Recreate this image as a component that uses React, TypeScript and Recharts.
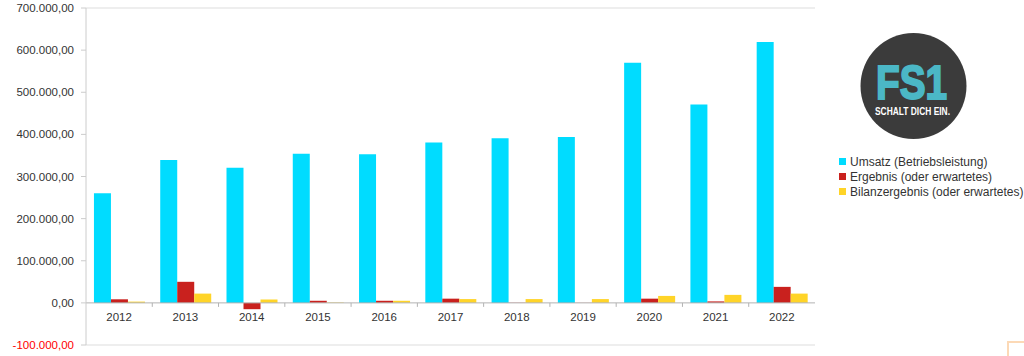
import React from 'react';
import { BarChart, Bar, XAxis, YAxis, CartesianGrid, ReferenceLine } from 'recharts';

const years = ['2012', '2013', '2014', '2015', '2016', '2017', '2018', '2019', '2020', '2021', '2022'];
const umsatz = [260000, 339000, 321000, 354000, 353000, 381000, 391000, 394000, 570000, 471000, 619000];
const ergebnis = [8500, 50000, -15000, 5000, 5000, 10000, 500, 300, 10000, 3500, 38000];
const bilanz = [3000, 22000, 8000, 1000, 5000, 9000, 9000, 9000, 16500, 19000, 22000];
const yTicks = [-100000, 0, 100000, 200000, 300000, 400000, 500000, 600000, 700000];

const series = [
  { key: 'Umsatz (Betriebsleistung)', color: '#00dcff', values: umsatz },
  { key: 'Ergebnis (oder erwartetes)', color: '#c9211e', values: ergebnis },
  { key: 'Bilanzergebnis (oder erwartetes)', color: '#ffd428', values: bilanz },
];

const Y_MIN = -100000;
const Y_MAX = 700000;

const W = 1024;
const H = 356;
const PLOT_LEFT = 86;
const PLOT_TOP = 8;
const PLOT_RIGHT = 815;
const PLOT_BOTTOM = 345;
const FONT = '"Liberation Sans", Arial, sans-serif';

const data = years.map((y, i) => {
  const row: any = { year: y };
  series.forEach((s) => (row[s.key] = s.values[i]));
  return row;
});

const fmt = (v: number) => {
  const neg = v < 0;
  const s = Math.abs(Math.round(v)).toString().replace(/\B(?=(\d{3})+(?!\d))/g, '.');
  return (neg ? '-' : '') + s + ',00';
};

// zero line sits inside the plot, the year labels hang off it
const zeroY = PLOT_TOP + (PLOT_BOTTOM - PLOT_TOP) * (Y_MAX / (Y_MAX - Y_MIN));
const band = (PLOT_RIGHT - PLOT_LEFT) / years.length;

const YearTick = (props: any) => {
  const { x, payload, index } = props;
  return (
    <g>
      {index > 0 && (
        <line x1={x - band / 2} x2={x - band / 2} y1={zeroY} y2={zeroY + 4} stroke="#b3b3b3" />
      )}
      <text x={x} y={zeroY + 18} textAnchor="middle" fill="#333" fontSize={11.5} fontFamily={FONT}>
        {payload.value}
      </text>
    </g>
  );
};

const ValueTick = (props: any) => {
  const { x, y, payload } = props;
  return (
    <text x={x} y={y} dy={4} textAnchor="end" fill={payload.value < 0 ? '#ff0000' : '#333'} fontSize={11.5} fontFamily={FONT}>
      {fmt(payload.value)}
    </text>
  );
};

const LegendBox = () => (
  <div style={{ position: 'absolute', left: 839, top: 154, fontFamily: FONT, fontSize: 12, color: '#333' }}>
    {series.map((s) => (
      <div key={s.key} style={{ display: 'flex', alignItems: 'center', height: 15, whiteSpace: 'nowrap' }}>
        <span style={{ width: 7, height: 7, background: s.color, marginRight: 4, display: 'inline-block' }} />
        <span>{s.key}</span>
      </div>
    ))}
  </div>
);

const Logo = () => (
  <svg width={120} height={120} style={{ position: 'absolute', left: 853, top: 26 }}>
    <circle cx={60.5} cy={60} r={53} fill="#3b3b3b" />
    <text
      x={23}
      y={73}
      fill="#4bb7c6"
      stroke="#4bb7c6"
      strokeWidth={2}
      fontSize={48}
      fontWeight="bold"
      fontFamily={FONT}
      textLength={71}
      lengthAdjust="spacingAndGlyphs"
    >
      FS1
    </text>
    <text x={22} y={89} fill="#ffffff" fontSize={10} fontWeight="bold" fontFamily={FONT} textLength={75} lengthAdjust="spacingAndGlyphs">
      SCHALT DICH EIN.
    </text>
  </svg>
);

const App: React.FC = () => {
  return (
    <div style={{ position: 'absolute', left: 0, top: 0, width: W, height: H, background: '#fff' }}>
      <BarChart
        width={W}
        height={H}
        data={data}
        margin={{ top: PLOT_TOP, right: W - PLOT_RIGHT, bottom: H - PLOT_BOTTOM - 1, left: 0 }}
        barGap={0}
        barCategoryGap="12%"
      >
        <CartesianGrid vertical={false} stroke="#dddddd" />
        <XAxis dataKey="year" height={1} axisLine={false} tickLine={false} tick={<YearTick />} interval={0} />
        <YAxis
          yAxisId="left"
          width={PLOT_LEFT}
          domain={[Y_MIN, Y_MAX]}
          ticks={yTicks}
          interval={0}
          tickSize={5}
          tickMargin={7}
          axisLine={{ stroke: '#cccccc' }}
          tickLine={{ stroke: '#cccccc' }}
          tick={<ValueTick />}
        />
        <YAxis
          yAxisId="right"
          orientation="right"
          width={0}
          domain={[Y_MIN, Y_MAX]}
          tick={false}
          tickLine={false}
          axisLine={{ stroke: '#cccccc' }}
        />
        <ReferenceLine yAxisId="left" y={0} stroke="#b3b3b3" />
        {series.map((s) => (
          <Bar key={s.key} yAxisId="left" dataKey={s.key} fill={s.color} isAnimationActive={false} />
        ))}
      </BarChart>
      <LegendBox />
      <Logo />
      <div
        style={{
          position: 'absolute',
          left: 1007,
          top: 341,
          width: 20,
          height: 20,
          borderTop: '2px solid #fcd9b6',
          borderLeft: '2px solid #fcd9b6',
        }}
      />
    </div>
  );
};

export default App;
